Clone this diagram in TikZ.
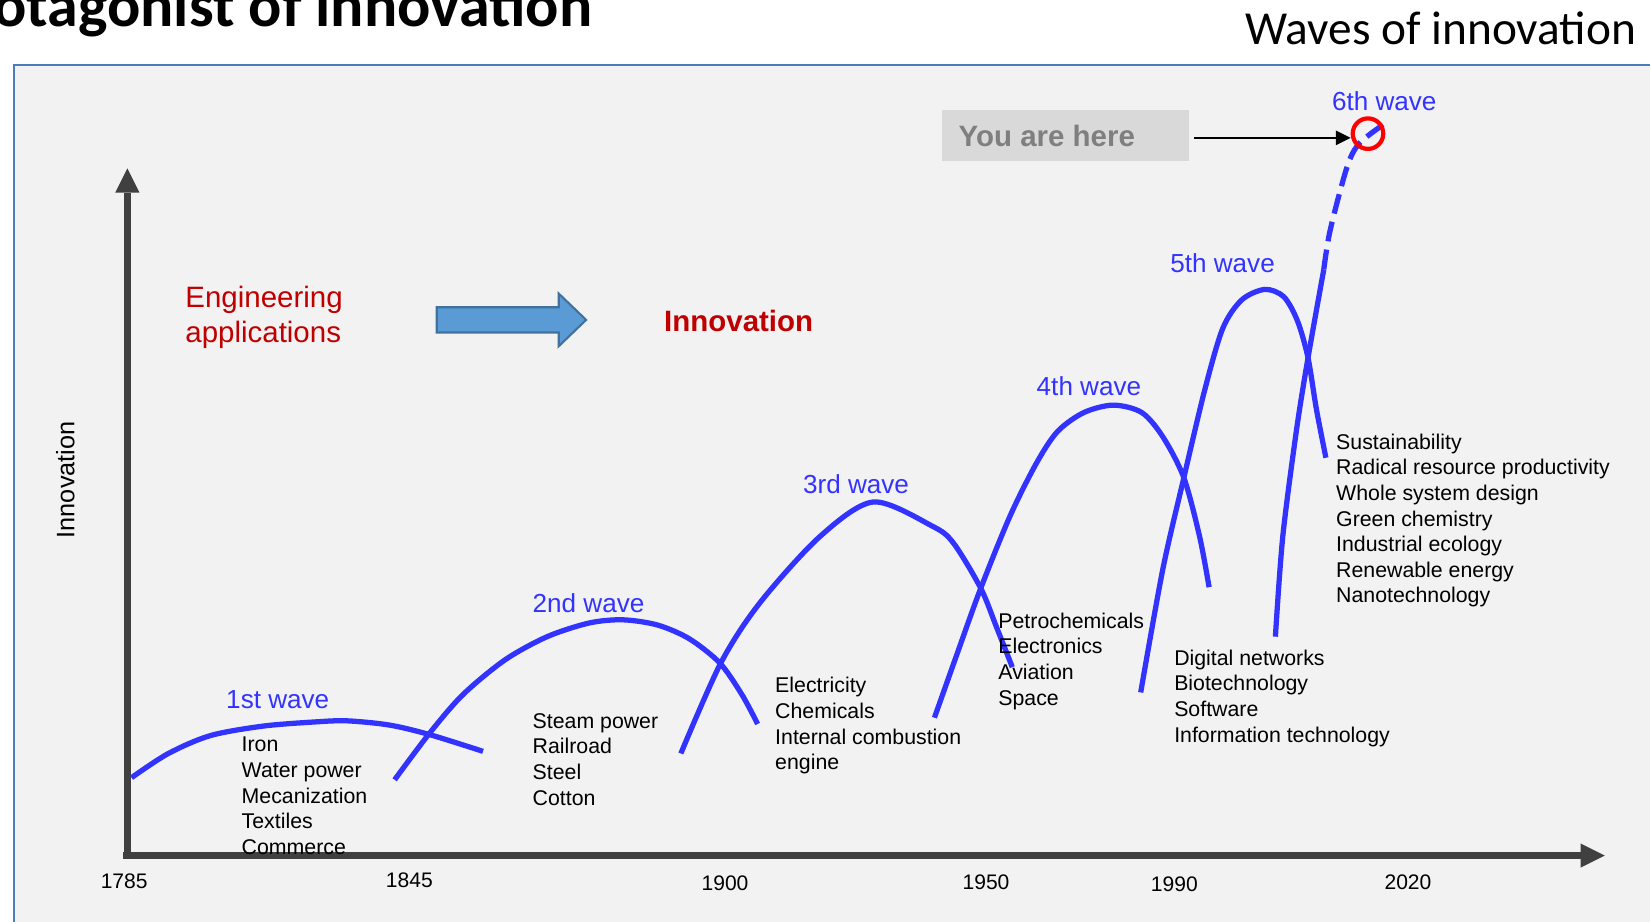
\documentclass[tikz,border=0pt]{standalone}
\usepackage{fontspec}
\setmainfont{Liberation Sans}
\newfontfamily\calibri{Carlito}
\usetikzlibrary{arrows.meta, positioning}
\definecolor{wavecol}{RGB}{51,51,255}
\definecolor{panelgray}{RGB}{242,242,242}
\definecolor{panelrule}{RGB}{74,126,187}
\definecolor{axisgray}{RGB}{64,64,64}
\definecolor{accentred}{RGB}{192,0,0}
\definecolor{arrowblue}{RGB}{91,155,213}
\definecolor{arrowrim}{RGB}{65,113,156}
\definecolor{heregray}{RGB}{217,217,217}
\definecolor{heretext}{RGB}{127,127,127}

\tikzset{
  wave/.style={wavecol, line width=5pt},
  wavetag/.style={wavecol, anchor=base west, inner sep=0pt, font=\fontsize{24.8}{28}\selectfont},
  tech/.style={anchor=base west, inner sep=0pt, font=\fontsize{20.25}{24.4}\selectfont},
  year/.style={anchor=base, inner sep=0pt, font=\fontsize{20}{24}\selectfont},
  axis/.style={axisgray, line width=6.5pt, -{Triangle[length=23pt, width=23pt, line width=0pt]}},
  pointer/.style={black, line width=2pt, -{Triangle[length=14pt, width=14pt, line width=0pt]}}
}

\begin{document}
\begin{tikzpicture}[x=1pt, y=-1pt]
    \useasboundingbox (0,0) rectangle (1568,876);

    % Slide titles
    \node[anchor=base east, inner sep=0pt, font=\calibri\bfseries\fontsize{59}{60}\selectfont] (title) at (563,25) {otagonist of innovation};
    \node[anchor=base east, inner sep=0pt, font=\calibri\fontsize{45}{50}\selectfont] (subtitle) at (1555,42) {Waves of innovation};

    % Panel
    \fill[panelgray] (13,62) rectangle (1600,900);
    \draw[panelrule, line width=2pt] (13,900) -- (13,62) -- (1600,62);

    % Axes
    \draw[axis] (117,813) -- (1525,813);
    \draw[axis] (121,816) -- (121,160);
    \node[rotate=90, font=\fontsize{24}{28}\selectfont] (ylabel) at (62,456) {Innovation};

    % Years
    \node[year] (y1785) at (118,844) {1785};
    \node[year] (y1845) at (389,843.5) {1845};
    \node[year] (y1900) at (689,846) {1900};
    \node[year] (y1950) at (937,845) {1950};
    \node[year] (y1990) at (1116,847) {1990};
    \node[year] (y2020) at (1338,845) {2020};

    % Engineering -> Innovation
    \node[accentred, anchor=base west, inner sep=0pt, font=\fontsize{28}{33}\selectfont] (eng) at (176,292) {Engineering};
    \node[accentred, anchor=base west, inner sep=0pt, font=\fontsize{28}{33}\selectfont] (apps) at (176,325) {applications};
    \draw[fill=arrowblue, draw=arrowrim, line width=2pt] (415,292) -- (531,292) -- (531,279) -- (557,304) -- (531,329) -- (531,316) -- (415,316) -- cycle;
    \node[accentred, anchor=base west, inner sep=0pt, font=\bfseries\fontsize{28}{33}\selectfont] (innov) at (631,314.6) {Innovation};

    % Waves
    \draw[wave] plot[smooth] coordinates {(125,739) (160,716) (200,699) (250,690) (300,686) (330,685) (370,689) (408,698) (459,714)};
    \draw[wave] plot[smooth] coordinates {(375,741) (408,697) (440,660) (480,627) (520,605) (560,592) (592,589) (625,594) (655,607) (684,630) (705,660) (720,688)};
    \draw[wave] plot[smooth] coordinates {(647,716) (685,630) (722,573) (779,510) (830,477) (886,500) (906,516) (932,559) (947,596) (962,634)};
    \draw[wave] plot[smooth] coordinates {(888,682) (910,620) (932,559) (960,490) (985,440) (1005,410) (1030,392) (1058,385) (1085,392) (1105,415) (1125,454) (1140,510) (1149,558)};
    \draw[wave] plot[smooth] coordinates {(1084,658) (1105,541) (1125,454) (1145,370) (1162,312) (1180,285) (1202,275) (1220,282) (1233,305) (1243,340) (1251,389) (1260,435)};
    \draw[wave] plot[smooth] coordinates {(1212,605) (1219,510) (1232,409) (1243,340) (1258,256)};
    \draw[wave, dash pattern=on 19pt off 8pt] plot[smooth] coordinates {(1258,256) (1264,219) (1280,159) (1292,136) (1318,116)};

    % Wave labels
    \node[wavetag] (w1) at (214.8,673) {1st wave};
    \node[wavetag] (w2) at (506,581.6) {2nd wave};
    \node[wavetag] (w3) at (763,468.6) {3rd wave};
    \node[wavetag] (w4) at (985,375.4) {4th wave};
    \node[wavetag] (w5) at (1112,258.5) {5th wave};
    \node[wavetag] (w6) at (1265.6,105.4) {6th wave};

    % Technologies of each wave
    \foreach \word [count=\i] in {Iron, Water power, Mecanization, Textiles, Commerce}
        \node[tech] (first-\i) at (229.5, {690.1+24.4*\i}) {\word};
    \foreach \word [count=\i] in {Steam power, Railroad, Steel, Cotton}
        \node[tech] (second-\i) at (506, {667.6+24.4*\i}) {\word};
    \foreach \word [count=\i] in {Electricity, Chemicals, Internal combustion, engine}
        \node[tech] (third-\i) at (736.5, {634.1+24.4*\i}) {\word};
    \foreach \word [count=\i] in {Petrochemicals, Electronics, Aviation, Space}
        \node[tech] (fourth-\i) at (948.6, {572.6+24.4*\i}) {\word};
    \foreach \word [count=\i] in {Digital networks, Biotechnology, Software, Information technology}
        \node[tech] (fifth-\i) at (1115.7, {607.6+24.4*\i}) {\word};
    \foreach \word [count=\i] in {Sustainability, Radical resource productivity, Whole system design, Green chemistry, Industrial ecology, Renewable energy, Nanotechnology}
        \node[tech] (sixth-\i) at (1269.6, {402.7+24.3*\i}) {\word};

    % You are here
    \node[fill=heregray, minimum width=235pt, minimum height=48pt, inner sep=0pt] (here) at (1012.5,129) {};
    \node[heretext, inner sep=0pt, font=\bfseries\fontsize{28}{33}\selectfont, right=16pt of here.west] (heretxt) {You are here};
    \node[circle, draw=red, line width=4pt, minimum size=29pt, inner sep=0pt] (now) at (1300,127) {};
    \coordinate (herestart) at (1135,131);
    \draw[pointer] (herestart) -- (herestart -| now.west);
\end{tikzpicture}
\end{document}
